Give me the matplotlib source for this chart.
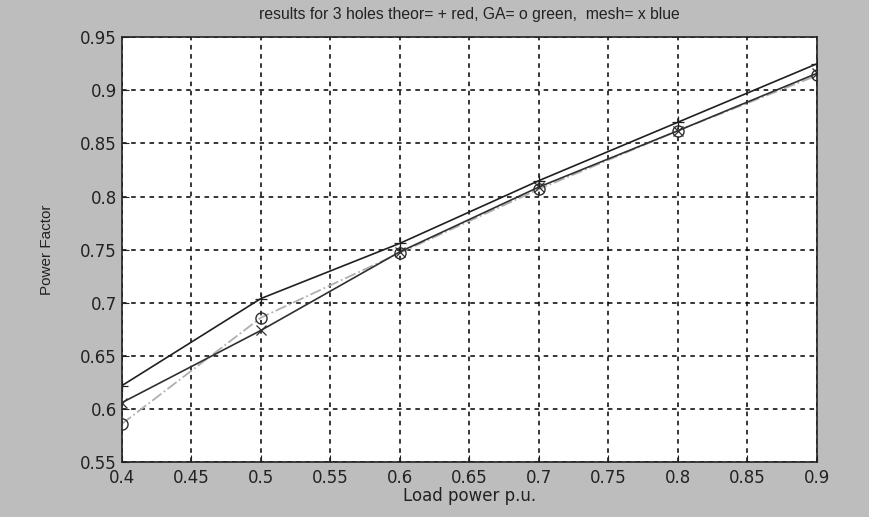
import matplotlib
matplotlib.use("Agg")
import matplotlib.pyplot as plt

plt.rcParams['font.family'] = ['Liberation Sans', 'DejaVu Sans']

load = [0.4, 0.5, 0.6, 0.7, 0.8, 0.9]
theor = [0.622, 0.704, 0.756, 0.815, 0.870, 0.925]   # + red
ga = [0.586, 0.686, 0.747, 0.807, 0.862, 0.914]      # o green
mesh = [0.606, 0.674, 0.748, 0.809, 0.862, 0.916]    # x blue

xticks = [0.4, 0.45, 0.5, 0.55, 0.6, 0.65, 0.7, 0.75, 0.8, 0.85, 0.9]
yticks = [0.55, 0.6, 0.65, 0.7, 0.75, 0.8, 0.85, 0.9, 0.95]

fig = plt.figure(figsize=(8.7, 5.17), dpi=100, facecolor='#bdbdbd')
ax = fig.add_axes([0.140, 0.106, 0.799, 0.822])
ax.set_facecolor('white')

ax.plot(load, ga, color='#b0b0b0', linestyle='-.', linewidth=1.3,
        marker='o', markersize=8, markerfacecolor='none',
        markeredgecolor='#303030', markeredgewidth=1.0)
ax.plot(load, mesh, color='#303030', linewidth=1.2, marker='x',
        markersize=7, markeredgewidth=0.9)
ax.plot(load, theor, color='#202020', linewidth=1.2, marker='+',
        markersize=9, markeredgewidth=0.9)

ax.set_xlim(0.4, 0.9)
ax.set_ylim(0.55, 0.95)
ax.set_xticks(xticks)
ax.set_xticklabels([('%g' % v) for v in xticks], family='DejaVu Sans')
ax.set_yticks(yticks)
ax.set_yticklabels([('%g' % v) for v in yticks], family='DejaVu Sans')
ax.tick_params(direction='in', length=5, labelsize=12, colors='#222222')
ax.tick_params(axis='x', pad=5)
ax.grid(True, color='black', linestyle=(0, (3, 3)), linewidth=1.1)
for s in ax.spines.values():
    s.set_color('#222222')
    s.set_linewidth(1.2)

ax.set_title('results for 3 holes theor= + red, GA= o green,  mesh= x blue',
             fontsize=11.3, color='#222222', pad=13)
ax.set_xlabel('Load power p.u.', fontsize=12, color='#222222', labelpad=0,
              family='DejaVu Sans')
ax.set_ylabel('Power Factor', fontsize=11, color='#222222', labelpad=19)

fig.savefig('out.png', dpi=100, facecolor=fig.get_facecolor())
